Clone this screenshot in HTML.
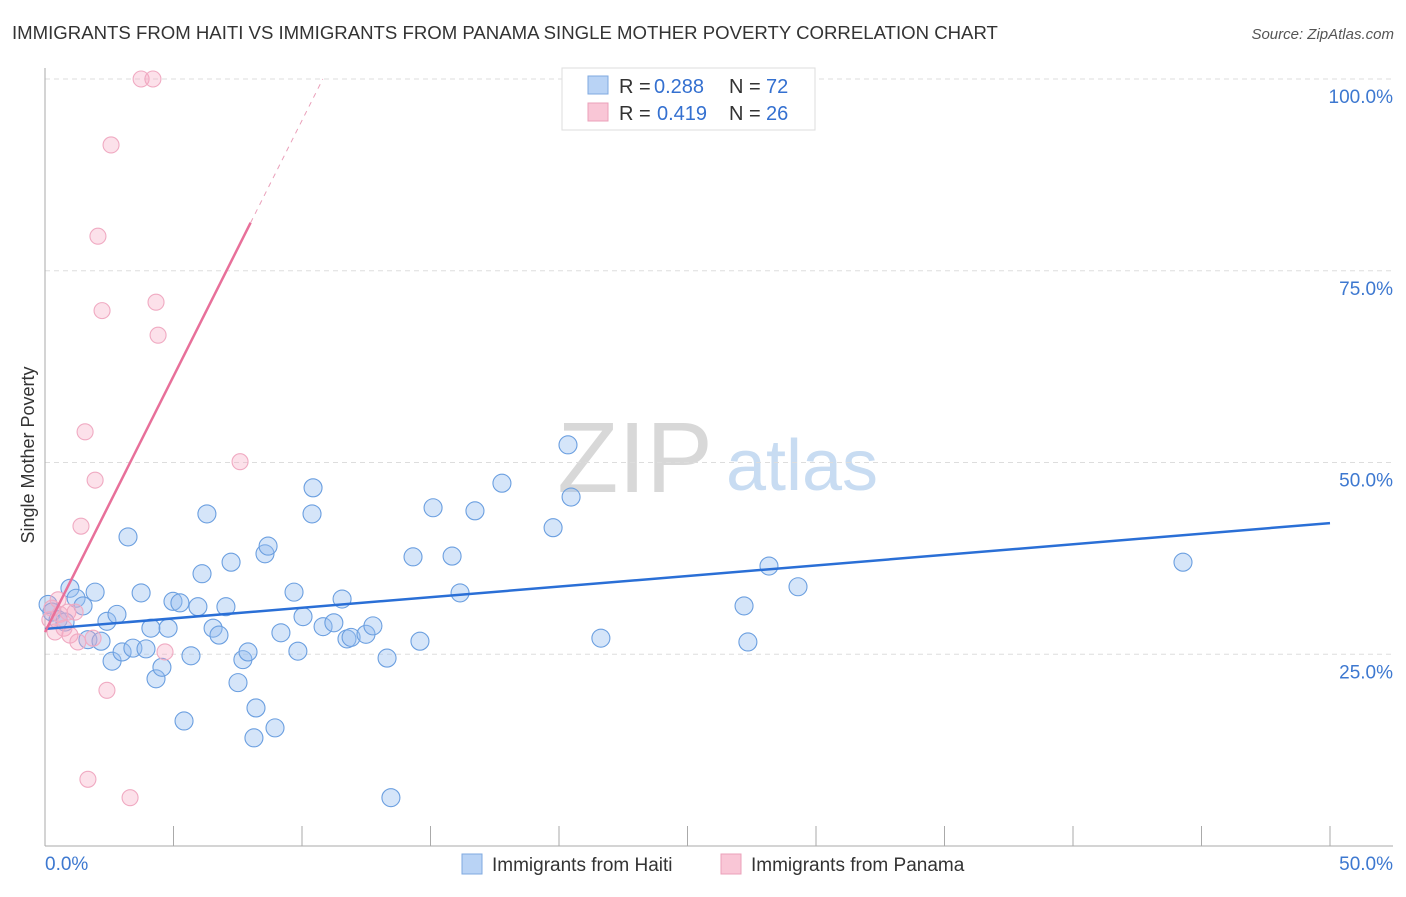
<!DOCTYPE html>
<html><head><meta charset="utf-8"><style>
body{margin:0;background:#fff;font-family:"Liberation Sans",sans-serif;}
svg text{font-family:"Liberation Sans",sans-serif;}
</style></head><body>
<svg width="1406" height="892" xmlns="http://www.w3.org/2000/svg" id="chart">
<text x="12" y="39" font-size="18.6" fill="#333">IMMIGRANTS FROM HAITI VS IMMIGRANTS FROM PANAMA SINGLE MOTHER POVERTY CORRELATION CHART</text>
<text x="1394" y="39" font-size="15" fill="#555" font-style="italic" text-anchor="end">Source: ZipAtlas.com</text>
<g>
<text x="635" y="492" font-size="100" fill="#d8d8d8" font-family="Liberation Serif" text-anchor="middle">ZIP</text>
<text x="802" y="490" font-size="72" fill="#c8dcf2" text-anchor="middle">atlas</text>
</g>
<g id="grid"></g>
<g id="axes"></g>
<g id="marks"></g>
<text transform="translate(34,455) rotate(-90)" font-size="18" fill="#333" text-anchor="middle">Single Mother Poverty</text>
<g>
<rect x="562" y="68" width="253" height="62" fill="#fff" stroke="#ddd"/>
<rect x="588" y="76" width="20" height="18" fill="#b9d3f5" stroke="#7fa9e0"/>
<rect x="588" y="103" width="20" height="18" fill="#f9c6d6" stroke="#eba0ba"/>
<text x="619" y="93" font-size="20" fill="#333">R = <tspan fill="#3470d0" x="654">0.288</tspan><tspan x="729">N = </tspan><tspan fill="#3470d0" x="766">72</tspan></text>
<text x="619" y="120" font-size="20" fill="#333">R = <tspan fill="#3470d0" x="657">0.419</tspan><tspan x="729">N = </tspan><tspan fill="#3470d0" x="766">26</tspan></text>
</g>
<g>
<rect x="462" y="854" width="20" height="20" fill="#b9d3f5" stroke="#7fa9e0"/>
<text x="492" y="871" font-size="19" fill="#333">Immigrants from Haiti</text>
<rect x="721" y="854" width="20" height="20" fill="#f9c6d6" stroke="#eba0ba"/>
<text x="751" y="871" font-size="19" fill="#333">Immigrants from Panama</text>
</g>
</svg>
<script>
const haitiX=[0.12,0.27,0.51,0.78,0.97,1.21,1.48,1.95,1.67,2.18,2.41,2.61,2.80,3.00,3.23,3.42,3.74,3.93,4.12,4.32,4.55,4.79,4.98,5.25,5.41,5.68,5.95,6.11,6.30,6.54,6.77,7.04,7.24,7.51,7.70,7.90,8.21,8.13,8.56,8.68,8.95,9.18,9.69,9.84,10.04,10.39,10.43,10.82,11.24,11.56,11.75,11.91,12.49,12.76,13.31,13.46,14.32,14.59,15.10,15.84,16.15,16.73,17.78,19.77,20.35,20.47,21.63,27.20,27.35,28.17,29.30,44.28];
const haitiY=[31.5,30.5,29.5,29.2,33.6,32.3,31.3,33.1,26.9,26.7,29.3,24.1,30.2,25.3,40.3,25.8,33.0,25.7,28.4,21.8,23.3,28.4,31.9,31.7,16.3,24.8,31.2,35.5,43.3,28.4,27.5,31.2,37.0,21.3,24.3,25.3,18.0,14.1,38.1,39.1,15.4,27.8,33.1,25.4,29.9,43.3,46.7,28.6,29.1,32.2,27.0,27.2,27.6,28.7,24.5,6.3,37.7,26.7,44.1,37.8,33.0,43.7,47.3,41.5,52.3,45.5,27.1,31.3,26.6,36.5,33.8,37.0];
const panamaX=[3.74,4.20,2.57,2.06,2.22,4.32,4.40,1.56,1.95,1.40,7.59,0.27,0.39,0.58,0.89,1.17,0.74,0.97,1.28,1.87,4.67,2.41,1.67,3.31,0.19,0.51];
const panamaY=[100,100,91.4,79.5,69.8,70.9,66.6,54.0,47.7,41.7,50.1,31.0,27.9,30.2,30.5,30.5,28.4,27.5,26.6,27.1,25.3,20.3,8.7,6.3,29.5,32.1];
const haitiTrend=[28.3,42.1];
const panamaTrend=[27.9,6.67];
const yTicks=[25,50,75,100];
const xTickLabels=["0.0%","50.0%"];

const NS="http://www.w3.org/2000/svg";
const X0=45,X1=1330,Y0=846,Y100=79;
const sx=v=>X0+(X1-X0)*v/50;
const sy=v=>Y0-(Y0-Y100)*v/100;
function mk(tag,attrs,parent){const e=document.createElementNS(NS,tag);for(const k in attrs)e.setAttribute(k,attrs[k]);document.getElementById(parent).appendChild(e);return e;}

yTicks.forEach(t=>{
  const g=mk('line',{x1:X0,x2:1393,y1:sy(t),y2:sy(t),stroke:'#ddd','stroke-dasharray':'5,4'},'grid');
  
  
  const l=mk('text',{x:1393,y:sy(t)+24,'font-size':19,fill:'#3d78d0','text-anchor':'end'},'axes');
  l.textContent=t.toFixed(1)+'%';
  
  
});
const ya=mk('line',{x1:X0,x2:X0,y1:68,y2:Y0,stroke:'#aaa'},'axes');


const xa=mk('line',{x1:X0,x2:1393,y1:Y0,y2:Y0,stroke:'#aaa'},'axes');


for(let i=0;i<=10;i++){
  const t=mk('line',{x1:sx(i*5),x2:sx(i*5),y1:826,y2:Y0,stroke:'#aaa'},'axes');
  
  
}
[[0,'start',xTickLabels[0]],[50,'end',xTickLabels[1]]].forEach(([v,a,s],i)=>{
  const l=mk('text',{x:i?1393:sx(v),y:870,'font-size':19,fill:'#3d78d0','text-anchor':a},'axes');
  l.textContent=s;
  
  
});

haitiX.forEach((x,i)=>{
  const c=mk('circle',{cx:sx(x),cy:sy(haitiY[i]),r:9,fill:'rgba(150,190,240,0.4)',stroke:'#6b9fe0','stroke-width':1.1},'marks');
  
  
});
panamaX.forEach((x,i)=>{
  const c=mk('circle',{cx:sx(x),cy:sy(panamaY[i]),r:8,fill:'rgba(245,170,195,0.35)',stroke:'#f0aac2','stroke-width':1.1},'marks');
  
  
});
const bl=mk('line',{x1:sx(0),y1:sy(haitiTrend[0]),x2:sx(50),y2:sy(haitiTrend[1]),stroke:'#2a6fd6','stroke-width':2.5},'marks');


const pxEnd=8.0, pxMax=(100-panamaTrend[0])/panamaTrend[1];
const pl=mk('line',{x1:sx(0),y1:sy(panamaTrend[0]),x2:sx(pxEnd),y2:sy(panamaTrend[0]+panamaTrend[1]*pxEnd),stroke:'#e8709a','stroke-width':2.5},'marks');


const pd=mk('line',{x1:sx(pxEnd),y1:sy(panamaTrend[0]+panamaTrend[1]*pxEnd),x2:sx(pxMax),y2:sy(100),stroke:'#eaa0ba','stroke-width':1,'stroke-dasharray':'5,5'},'marks');


</script>
</body></html>
